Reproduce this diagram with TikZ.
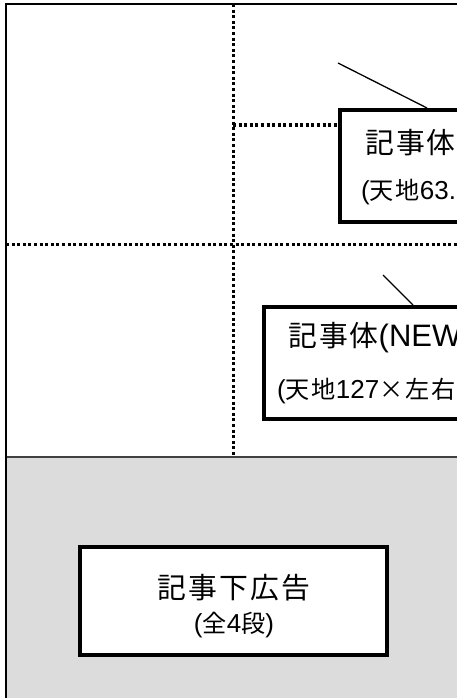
\documentclass[tikz,border=0pt]{standalone}
\usepackage{fontspec}
\setmainfont{Liberation Sans}
\newfontfamily\jpfont{Noto Sans CJK JP}[LetterSpace=7, Scale=0.93]
\newcommand{\jp}[1]{{\jpfont #1}}
\usetikzlibrary{positioning}
\definecolor{adgray}{RGB}{220,220,220}

\begin{document}
\begin{tikzpicture}[
		x=1pt, y=-1pt,
		frame/.style   = {draw, line width=2.6pt},
		dotline/.style = {draw, line width=3pt, dash pattern=on 3pt off 2.6pt},
		box/.style     = {draw, line width=4pt, fill=white, rectangle, inner sep=0pt},
		leader/.style  = {draw, line width=1.3pt},
		bigtext/.style = {font=\fontsize{31}{34}\selectfont, inner sep=0pt},
		subtext/.style = {font=\fontsize{26}{29}\selectfont, inner sep=0pt}]
		
		\useasboundingbox (0,0) rectangle (457,698);
		\clip (0,0) rectangle (457,698);
		
		% page areas
		\fill[adgray] (6,457) rectangle (470,700);
		\draw[line width=1.3pt, black!75] (6,457) -- (470,457);
		\draw[frame] (6,700) -- (6,4) -- (470,4);
		
		% column guides
		\coordinate (vtop) at (233,4);
		\coordinate (vbot) at (233,457);
		\coordinate (hleft) at (6,244);
		\coordinate (hright) at (470,244);
		\coordinate (hmid) at (233,125);
		\draw[dotline] (vtop) -- (vbot);
		\draw[dotline] (hleft) -- (hright);
		
		% article boxes
		\node[box, anchor=north west, minimum width=200pt, minimum height=112pt] (b1) at (338,108) {};
		\node[box, anchor=north west, minimum width=240pt, minimum height=112pt] (b2) at (262,305) {};
		\draw[dotline] (hmid) -- (b1.west |- hmid);
		
		\node[bigtext, anchor=west] (t11) at (365,143) {\jp{記事体}};
		\node[subtext, anchor=west] (t12) at (361,192) {(\jp{天地}63.};
		\node[bigtext, anchor=west] (t21) at (288,338) {\jp{記事体}(NEW};
		\node[subtext, anchor=west] (t22) at (277,391) {(\jp{天地}127\jp{×左右}};
		
		% leader lines
		\coordinate (p1) at (338,63);
		\coordinate (p2) at (383,275);
		\draw[leader] (p1) -- ([xshift=89pt]b1.north west);
		\draw[leader] (p2) -- ([xshift=151pt]b2.north west);
		
		% advertisement
		\node[box, minimum width=307pt, minimum height=108pt] (b3) at (233.5,601) {};
		\node[bigtext] (t31) at (234,588) {\jp{記事下広告}};
		\node[subtext] (t32) at (234,625) {(\jp{全}4\jp{段})};
		
	\end{tikzpicture}
\end{document}
